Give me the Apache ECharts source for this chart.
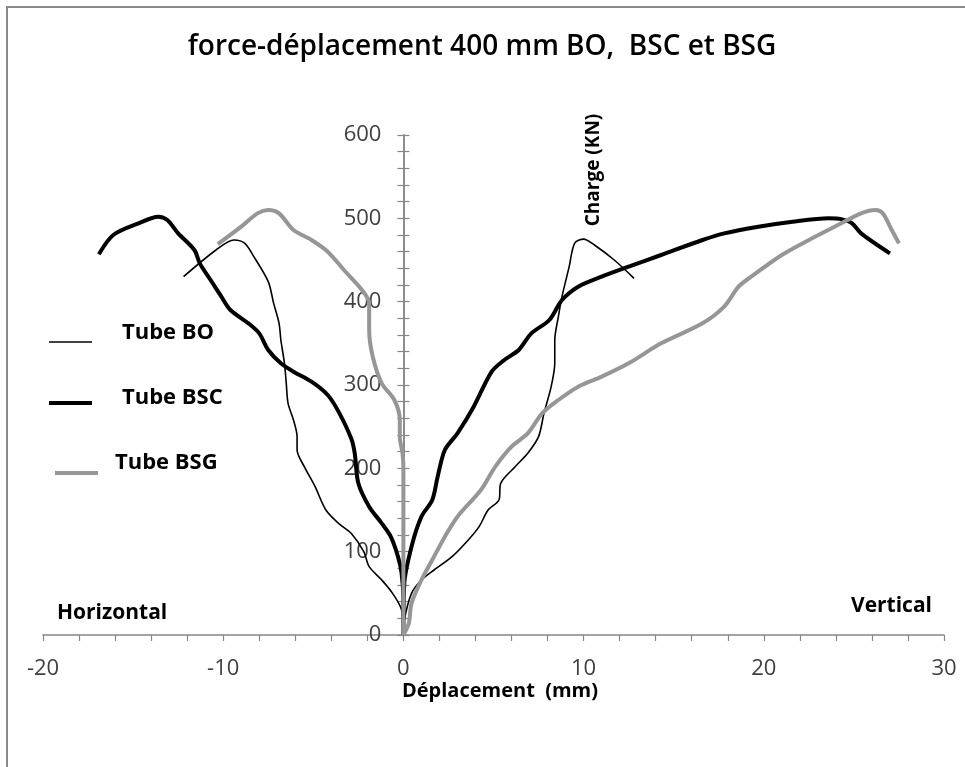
<!DOCTYPE html>
<html lang="fr">
<head>
<meta charset="UTF-8">
<title>force-déplacement 400 mm</title>
<script src="https://cdn.jsdelivr.net/npm/echarts@6/dist/echarts.min.js"></script>
<style>
    html, body { margin: 0; padding: 0; background: #fff; }
    #main { width: 965px; height: 767px; }
</style>
</head>
<body>
<div id="main"></div>
<script>
// déplacement (mm), charge (kN) : branche horizontale (x < 0) puis verticale (x > 0), depuis l'origine
var boHorizontal = [[0,0],[-0.1,30],[-0.6,50],[-1.2,66],[-1.9,82],[-2.2,100],[-2.9,122],[-3.6,134],[-4.3,150],
    [-4.9,178],[-5.5,202],[-5.9,222],[-5.9,238],[-6.1,258],[-6.4,278],[-6.5,302],[-6.6,326],[-6.8,354],
    [-6.9,374],[-7.2,398],[-7.5,424],[-8.3,454],[-8.8,470],[-9.4,474],[-10.4,462],[-12.2,430]];
var boVertical = [[0,0],[0.05,18],[0.45,50],[1.0,66],[1.7,78],[2.7,94],[3.6,114],[4.2,130],[4.7,150],
    [5.3,162],[5.4,182],[6.2,202],[6.9,218],[7.5,238],[7.8,266],[8.2,298],[8.4,326],[8.4,354],[8.6,382],
    [8.8,406],[9.2,442],[9.5,470],[10.0,475],[10.6,468],[11.7,450],[12.8,428]];

var bscHorizontal = [[0,0],[0,42],[-0.1,74],[-0.3,94],[-0.7,118],[-1.2,134],[-1.9,154],[-2.5,182],[-2.7,218],
    [-2.9,236],[-3.6,268],[-4.2,288],[-5.1,304],[-6.1,316],[-6.8,326],[-7.5,342],[-8.0,362],[-8.6,374],
    [-9.6,390],[-10.1,406],[-10.7,426],[-11.3,446],[-11.6,462],[-12.5,482],[-13.1,498],[-13.6,502],
    [-14.7,494],[-16.1,480],[-16.9,457]];
var bscVertical = [[0,0],[0.05,62],[0.45,106],[1.0,142],[1.6,162],[1.9,190],[2.3,222],[3.0,242],[3.9,274],
    [4.9,316],[5.6,330],[6.4,342],[7.1,362],[8.1,378],[8.8,402],[9.7,418],[11.0,430],[12.5,442],[14.3,456],
    [16.6,474],[17.8,482],[19.7,490],[21.6,496],[23.6,500],[24.3,499],[24.9,494],[25.4,482],[27.0,458]];

var bsgHorizontal = [[0,0],[0,200],[-0.05,218],[-0.2,238],[-0.2,258],[-0.5,282],[-1.2,302],[-1.7,334],
    [-1.9,366],[-1.9,398],[-2.3,414],[-3.3,438],[-4.2,460],[-5.1,474],[-6.1,486],[-6.9,506],[-7.5,510],
    [-8.1,506],[-9.0,490],[-10.3,469]];
var bsgVertical = [[0,0],[0.3,14],[0.45,38],[1.0,66],[1.6,90],[2.3,118],[3.0,142],[4.3,174],[5.1,202],
    [6.0,226],[6.9,242],[7.7,266],[8.6,282],[9.7,298],[11.0,310],[12.5,326],[14.3,350],[16.6,374],
    [17.8,394],[18.6,418],[19.3,430],[21.0,456],[22.5,474],[24.3,494],[25.4,506],[26.2,510],[26.6,506],
    [27.1,486],[27.5,470]];

var tubeNames = ['Tube BO', 'Tube BSC', 'Tube BSG'];
var xRange = [-20, 30];   // déplacement, pas de 10
var yRange = [0, 600];    // charge, pas de 100

// une seule courbe par tube : bout horizontal -> origine -> bout vertical
function joinBranches(h, v) {
    return h.slice().reverse().concat(v.slice(1));
}

var FONT = '"Open Sans", sans-serif';
var axisGray = '#868686';
var black = '#000000';
var gray = '#969696';

var gridLeft = 43, gridRight = 21;
// l'axe des charges passe par x = 0 : on le décale depuis le bord gauche de la grille
var yAxisShift = -(0 - xRange[0]) / (xRange[1] - xRange[0]) * (965 - gridLeft - gridRight);

var myChart = echarts.init(document.getElementById('main'));

// deux axes Y superposés pour avoir des graduations qui traversent l'axe
function yAxisDef(inside, showLabel) {
    return {
        type: 'value',
        position: 'left',
        offset: yAxisShift,
        min: yRange[0],
        max: yRange[1],
        interval: 100,
        axisLine: { show: true, onZero: false, lineStyle: { color: axisGray, width: 1.5 } },
        axisTick: { show: true, inside: inside, length: 6, lineStyle: { color: axisGray, width: 1.2 } },
        minorTick: { show: true, splitNumber: 5, length: 6, lineStyle: { color: axisGray, width: 1.2 } },
        axisLabel: { show: showLabel, margin: 22, fontSize: 22, color: '#404040', fontFamily: FONT },
        splitLine: { show: false },
        minorSplitLine: { show: false }
    };
}

option = {
    backgroundColor: '#fff',
    animation: false,
    textStyle: { fontFamily: FONT },
    grid: { left: gridLeft, right: gridRight, top: 135, bottom: 132, outerBoundsMode: 'none' },
    xAxis: {
        type: 'value',
        min: xRange[0],
        max: xRange[1],
        interval: 10,
        axisLine: { onZero: false, lineStyle: { color: axisGray, width: 1.5 } },
        axisTick: { length: 6, lineStyle: { color: axisGray, width: 1.2 } },
        minorTick: { show: true, splitNumber: 5, length: 6, lineStyle: { color: axisGray, width: 1.2 } },
        axisLabel: { margin: 23, fontSize: 22, color: '#404040', fontFamily: FONT },
        splitLine: { show: false },
        minorSplitLine: { show: false }
    },
    yAxis: [yAxisDef(false, true), yAxisDef(true, false)],
    series: [
        {
            name: tubeNames[0], type: 'line', data: joinBranches(boHorizontal, boVertical),
            showSymbol: false, smooth: 0.3, lineStyle: { color: black, width: 1.6 }, z: 3
        },
        {
            name: tubeNames[1], type: 'line', data: joinBranches(bscHorizontal, bscVertical),
            showSymbol: false, smooth: 0.3, lineStyle: { color: black, width: 4 }, z: 4
        },
        {
            name: tubeNames[2], type: 'line', data: joinBranches(bsgHorizontal, bsgVertical),
            showSymbol: false, smooth: 0.3, lineStyle: { color: gray, width: 4 }, z: 5
        }
    ],
    graphic: [
        // cadre
        { type: 'rect', shape: { x: 7, y: 7, width: 990, height: 800 }, style: { fill: null, stroke: '#8a8a8a', lineWidth: 2 }, silent: true },
        { type: 'text', x: 482, y: 47, style: { text: 'force-déplacement 400 mm BO,  BSC et BSG', font: '600 28px ' + FONT, fill: '#000', align: 'center', verticalAlign: 'middle' } },
        { type: 'text', x: 594, y: 170, rotation: Math.PI / 2, style: { text: 'Charge (KN)', font: 'bold 19px ' + FONT, fill: '#000', align: 'center', verticalAlign: 'middle' } },
        { type: 'text', x: 500, y: 691, style: { text: 'Déplacement  (mm)', font: 'bold 20px ' + FONT, fill: '#000', align: 'center', verticalAlign: 'middle' } },
        { type: 'text', x: 57, y: 613, style: { text: 'Horizontal', font: 'bold 21px ' + FONT, fill: '#000', align: 'left', verticalAlign: 'middle' } },
        { type: 'text', x: 932, y: 606, style: { text: 'Vertical', font: 'bold 21px ' + FONT, fill: '#000', align: 'right', verticalAlign: 'middle' } },
        // légende dessinée à la main
        { type: 'line', shape: { x1: 49, y1: 342, x2: 92, y2: 342 }, style: { stroke: black, lineWidth: 1.6 } },
        { type: 'text', x: 122, y: 333, style: { text: tubeNames[0], font: 'bold 22px ' + FONT, fill: '#000', verticalAlign: 'middle' } },
        { type: 'line', shape: { x1: 49, y1: 403, x2: 92, y2: 403 }, style: { stroke: black, lineWidth: 4 } },
        { type: 'text', x: 122, y: 398, style: { text: tubeNames[1], font: 'bold 22px ' + FONT, fill: '#000', verticalAlign: 'middle' } },
        { type: 'line', shape: { x1: 55, y1: 473, x2: 98, y2: 473 }, style: { stroke: gray, lineWidth: 4 } },
        { type: 'text', x: 115, y: 463, style: { text: tubeNames[2], font: 'bold 22px ' + FONT, fill: '#000', verticalAlign: 'middle' } }
    ]
};

myChart.setOption(option);
</script>
</body>
</html>
